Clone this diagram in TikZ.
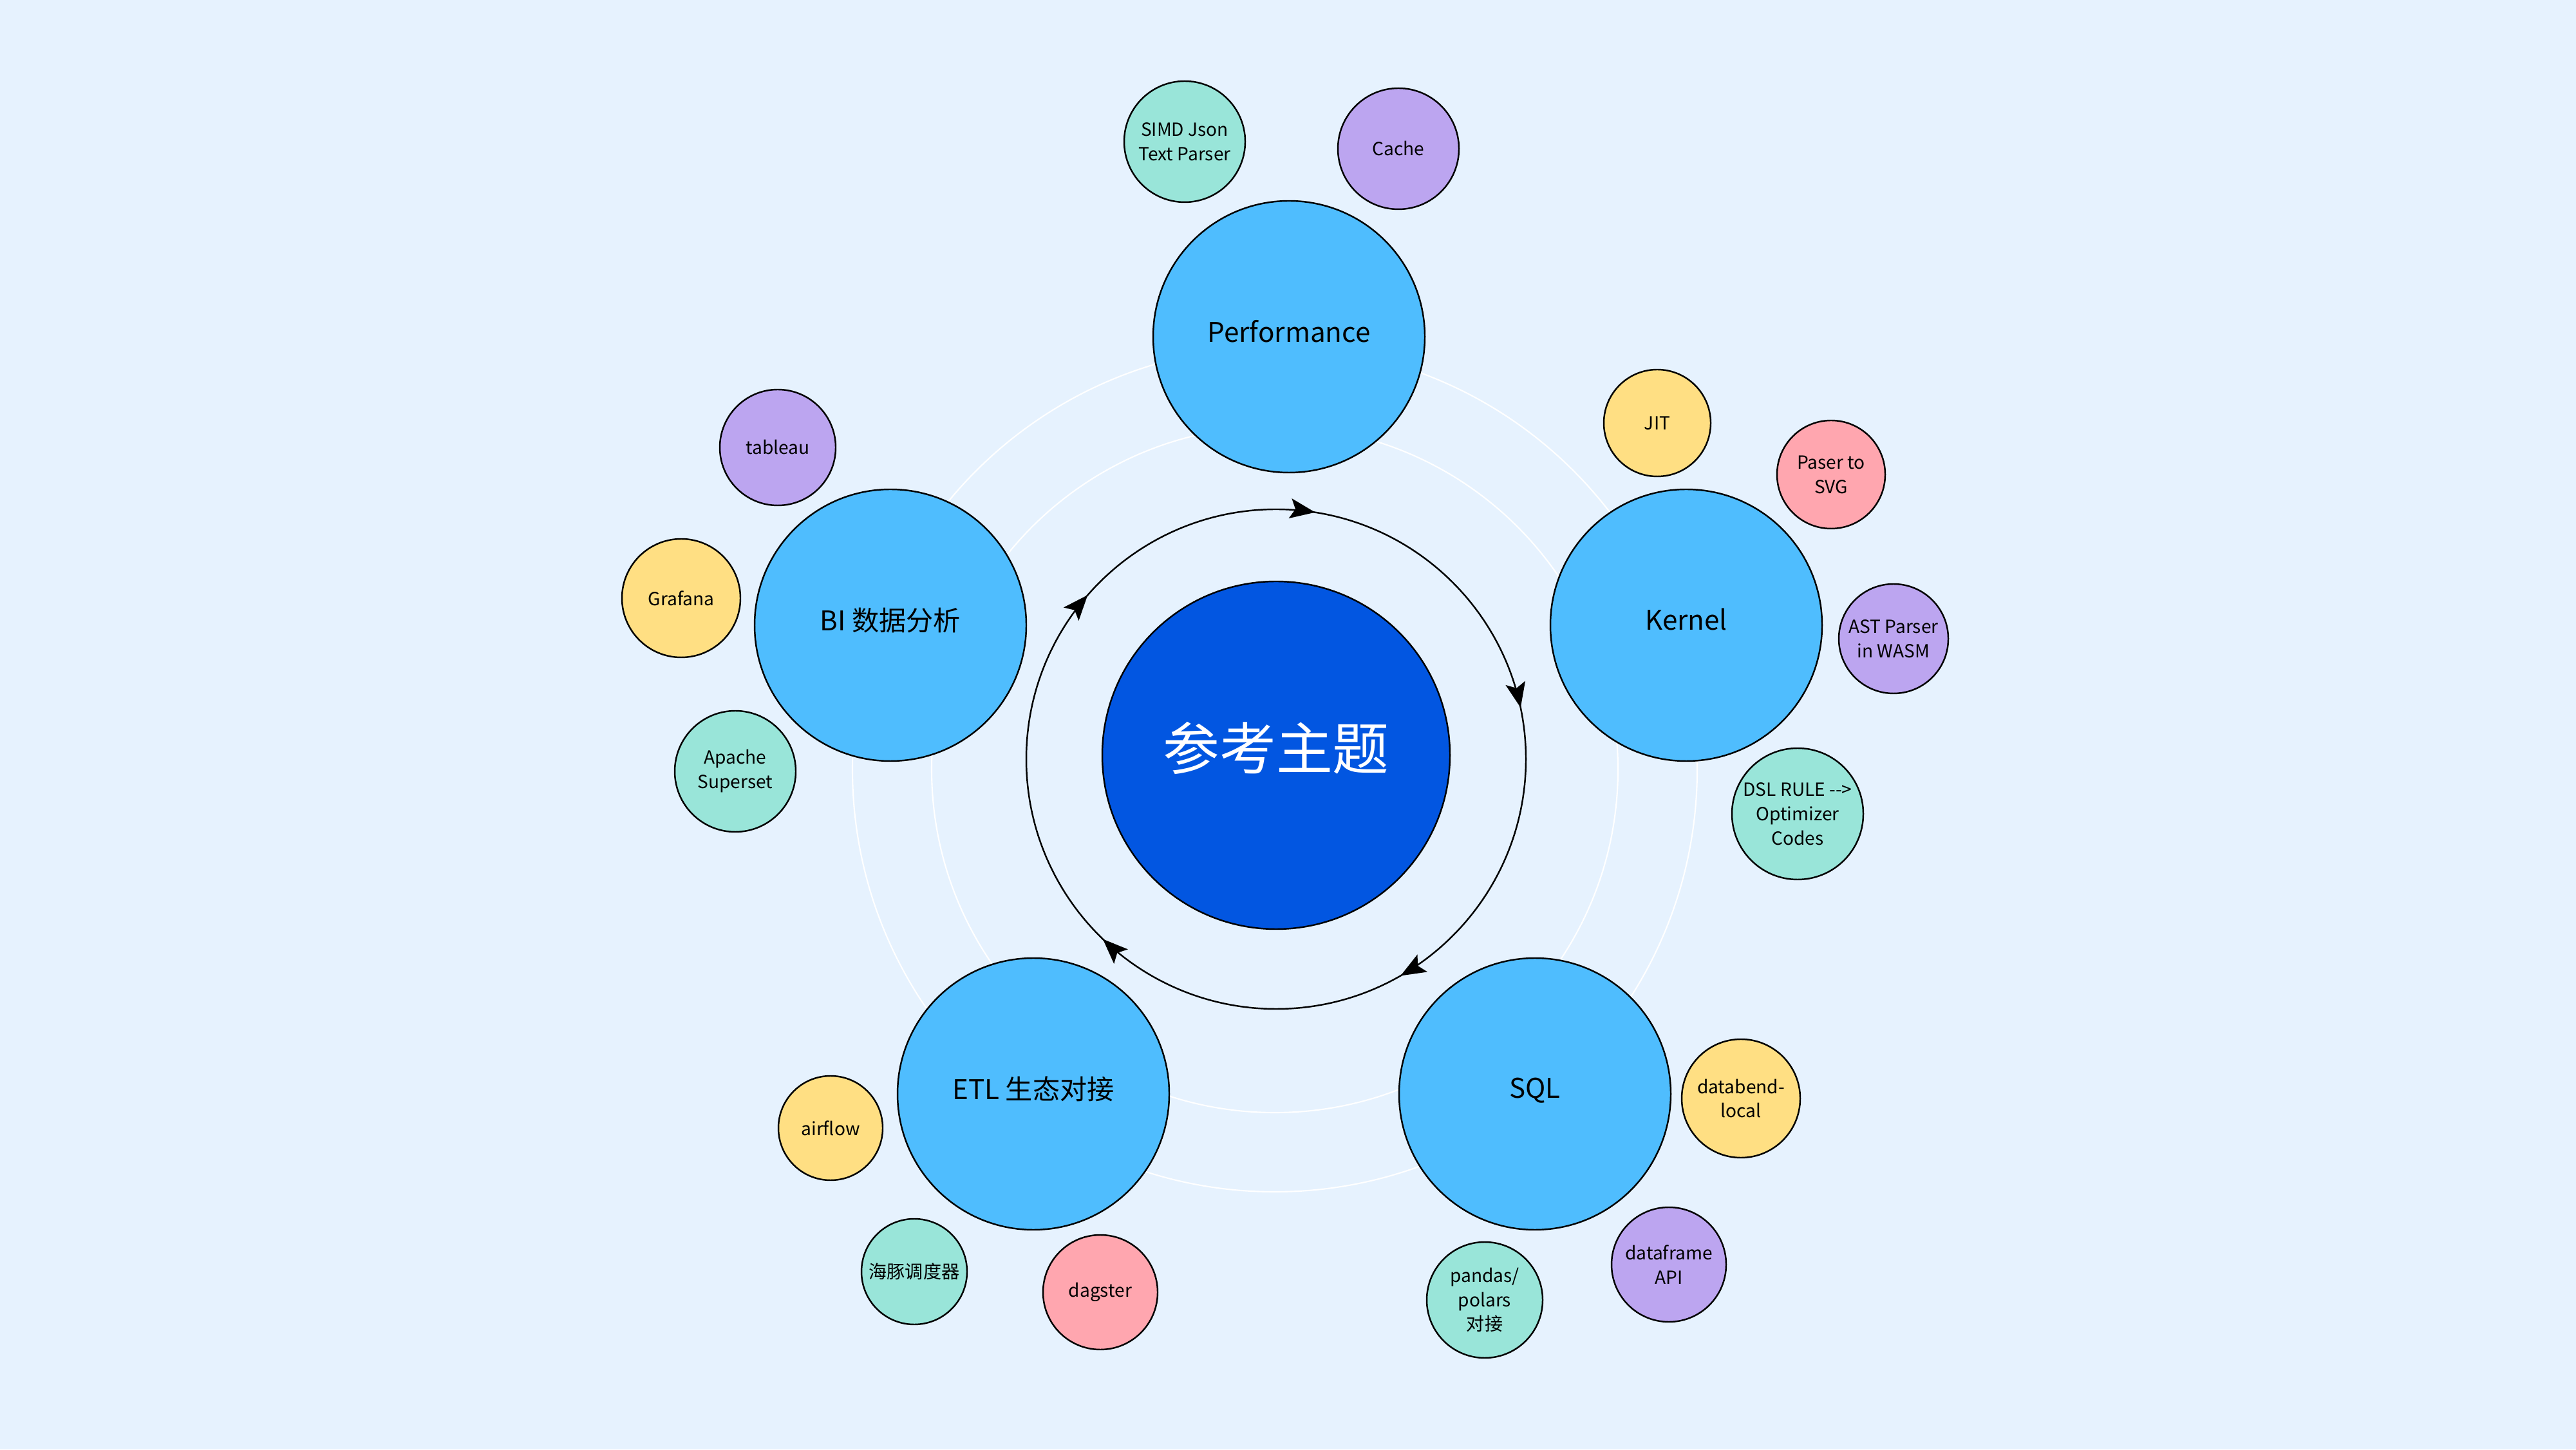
\documentclass[tikz,border=0pt]{standalone}
\usepackage{fontspec}
\setmainfont{Noto Sans CJK SC}
\usepackage{xcolor}
\definecolor{mapbg}{RGB}{230, 242, 254}
\definecolor{mapsky}{RGB}{79, 189, 254}
\definecolor{mapcore}{RGB}{2, 86, 225}
\definecolor{mapteal}{RGB}{153, 229, 217}
\definecolor{mappurple}{RGB}{188, 165, 240}
\definecolor{mapyellow}{RGB}{255, 223, 131}
\definecolor{mappink}{RGB}{255, 166, 175}
\usetikzlibrary{arrows.meta, decorations.markings}

\begin{document}
\begin{tikzpicture}[>=Stealth,
    topic/.style={circle, draw=black, line width=0.7pt, fill=mapsky,
        inner sep=0pt, minimum size=4.22cm, text depth=0.18cm,
        font=\fontsize{12}{14}\selectfont},
    leaf/.style={circle, draw=black, line width=0.7pt, inner sep=0pt,
        align=center, font=\fontsize{8}{10.8}\selectfont},
    cycle arrows/.style={line width=0.7pt, postaction={decorate},
        decoration={markings,
            mark=at position 0.033 with {\arrowreversed{Stealth[length=3.9mm, width=3.1mm, inset=0.8mm]}},
            mark=at position 0.225 with {\arrowreversed{Stealth[length=3.9mm, width=3.1mm, inset=0.8mm]}},
            mark=at position 0.386 with {\arrowreversed{Stealth[length=3.9mm, width=3.1mm, inset=0.8mm]}},
            mark=at position 0.628 with {\arrowreversed{Stealth[length=3.9mm, width=3.1mm, inset=0.8mm]}},
            mark=at position 0.833 with {\arrowreversed{Stealth[length=3.9mm, width=3.1mm, inset=0.8mm]}}}}]

% === Fondo ===
\fill[mapbg] (0, 0) rectangle (40.01, 22.51);

% === Anillos tenues ===
\coordinate (orbit) at (19.80, 10.56);
\draw[white, line width=0.6pt] (orbit) circle (5.33);
\draw[white, line width=0.6pt] (orbit) circle (6.56);

% === Anillo con flechas (sentido horario) ===
\coordinate (ring) at (19.82, 10.72);
\draw[cycle arrows] (ring) circle (3.88);

% === Tema central ===
\node[circle, draw=black, line width=0.7pt, fill=mapcore, inner sep=0pt,
    minimum size=5.40cm, text=white, text depth=0.3cm,
    font=\fontsize{25}{30}\selectfont]
    (core) at (19.82, 10.78) {参考主题};

% === Temas principales ===
\node[topic] (perf)   at (20.02, 17.28) {Performance};
\node[topic] (kernel) at (26.19, 12.80) {Kernel};
\node[topic] (sql)    at (23.84, 5.52)  {SQL};
\node[topic] (etl)    at (16.05, 5.52)  {ETL 生态对接};
\node[topic] (bi)     at (13.83, 12.80) {BI 数据分析};

% Performance
\node[leaf, fill=mapteal, minimum size=1.88cm] (simd) at (18.40, 20.31)
    {SIMD Json\\Text Parser};
\node[leaf, fill=mappurple, minimum size=1.88cm] (cache) at (21.72, 20.20)
    {Cache};

% Kernel
\node[leaf, fill=mapyellow, minimum size=1.66cm] (jit) at (25.74, 15.94)
    {JIT};
\node[leaf, fill=mappink, minimum size=1.68cm] (paser) at (28.44, 15.14)
    {Paser to\\SVG};
\node[leaf, fill=mappurple, minimum size=1.70cm] (ast) at (29.41, 12.59)
    {AST Parser\\in WASM};
\node[leaf, fill=mapteal, minimum size=2.04cm] (dsl) at (27.92, 9.87)
    {DSL RULE -{}->\\Optimizer\\Codes};

% SQL
\node[leaf, fill=mapyellow, minimum size=1.84cm] (databend) at (27.04, 5.45)
    {databend-\\local};
\node[leaf, fill=mappurple, minimum size=1.78cm] (dataframe) at (25.92, 2.87)
    {dataframe\\API};
\node[leaf, fill=mapteal, minimum size=1.80cm] (pandas) at (23.06, 2.32)
    {pandas/\\polars\\对接};

% ETL
\node[leaf, fill=mappink, minimum size=1.78cm] (dagster) at (17.09, 2.44)
    {dagster};
\node[leaf, fill=mapteal, minimum size=1.64cm] (haitun) at (14.20, 2.76)
    {海豚调度器};
\node[leaf, fill=mapyellow, minimum size=1.62cm] (airflow) at (12.90, 4.99)
    {airflow};

% BI
\node[leaf, fill=mapteal, minimum size=1.88cm] (superset) at (11.42, 10.53)
    {Apache\\Superset};
\node[leaf, fill=mapyellow, minimum size=1.84cm] (grafana) at (10.58, 13.22)
    {Grafana};
\node[leaf, fill=mappurple, minimum size=1.80cm] (tableau) at (12.08, 15.56)
    {tableau};

\end{tikzpicture}
\end{document}
